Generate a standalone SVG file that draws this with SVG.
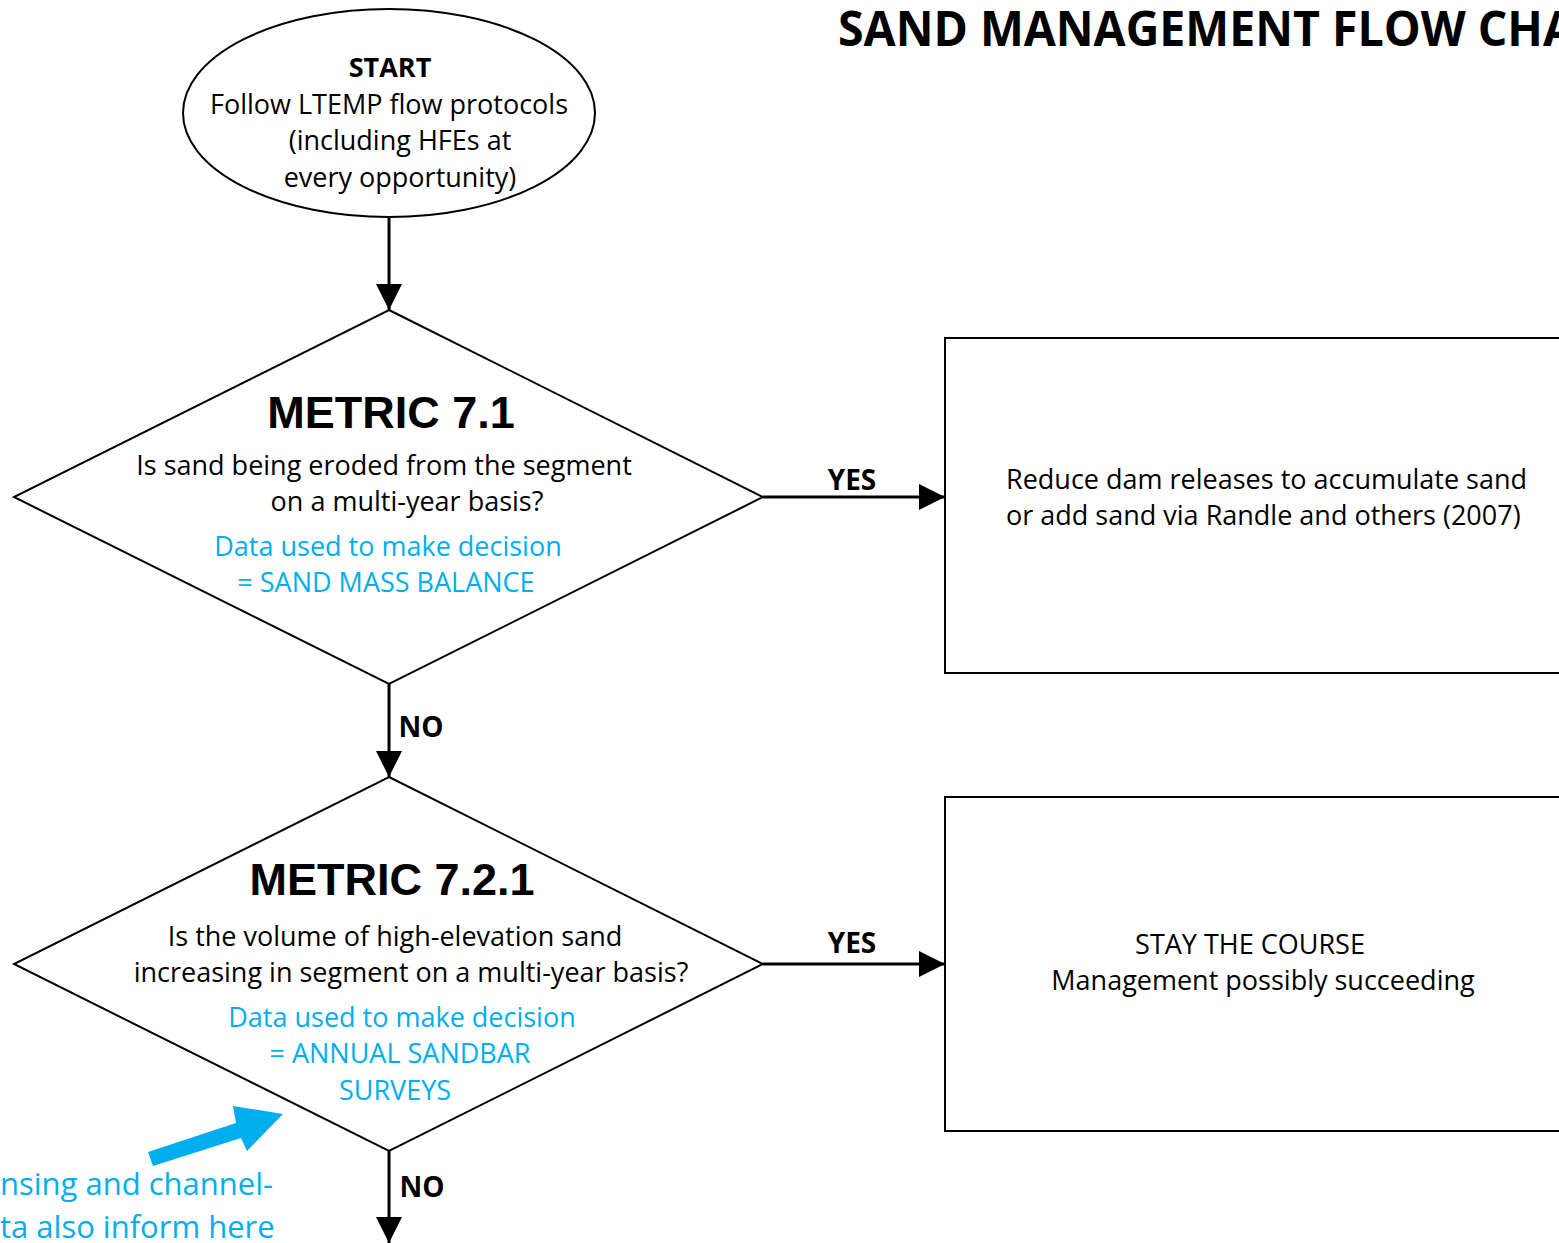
<svg xmlns="http://www.w3.org/2000/svg" width="1559" height="1243" viewBox="0 0 1559 1243">
<defs>
<marker id="ah" viewBox="0 0 26 26" refX="26" refY="13" markerWidth="26" markerHeight="26" markerUnits="userSpaceOnUse" orient="auto">
<path d="M0,0 L26,13 L0,26 Z" fill="#000"/>
</marker>
</defs>
<style>
.shape{fill:#fff;stroke:#000;stroke-width:2}
.t{font-family:"Open Sans","Liberation Sans",sans-serif;font-size:27px;fill:#000}
.b{font-weight:bold}
.blue{fill:#00AEEF}
.title{font-family:"Open Sans","Liberation Sans",sans-serif;font-weight:bold;font-size:48px;fill:#000}
.note{font-family:"Open Sans","Liberation Sans",sans-serif;font-size:31px;fill:#00AEEF}
.m{font-family:"Liberation Sans",Arial,sans-serif;font-weight:bold;font-size:45px;fill:#000}
.lbl{font-family:"Open Sans","Liberation Sans",sans-serif;font-weight:bold;font-size:28px;fill:#000}
.conn{stroke:#000;stroke-width:3;fill:none;marker-end:url(#ah)}
</style>
<rect width="1559" height="1243" fill="#fff"/>
<text class="title" x="838" y="46" textLength="737" lengthAdjust="spacingAndGlyphs">SAND MANAGEMENT FLOW CHA</text>
<g id="connectors">
<line class="conn" x1="389" y1="217" x2="389" y2="310"/>
<line class="conn" x1="763" y1="497" x2="945" y2="497"/>
<line class="conn" x1="389" y1="684" x2="389" y2="777"/>
<line class="conn" x1="763" y1="964" x2="945" y2="964"/>
<line class="conn" x1="389" y1="1151" x2="389" y2="1243"/>
<text class="lbl" x="852" y="490" text-anchor="middle">YES</text>
<text class="lbl" x="421" y="737" text-anchor="middle">NO</text>
<text class="lbl" x="852" y="953" text-anchor="middle">YES</text>
<text class="lbl" x="422" y="1197" text-anchor="middle">NO</text>
</g>
<g id="start">
<ellipse class="shape" cx="389" cy="113" rx="206" ry="104"/>
<text class="t b" x="390" y="77" text-anchor="middle">START</text>
<text class="t" x="389" y="114" text-anchor="middle">Follow LTEMP flow protocols</text>
<text class="t" x="400" y="150" text-anchor="middle">(including HFEs at</text>
<text class="t" x="400" y="187" text-anchor="middle">every opportunity)</text>
</g>
<g id="metric71">
<polygon class="shape" points="389,310 763,497 389,684 14,497"/>
<text class="m" x="391" y="428" text-anchor="middle">METRIC 7.1</text>
<text class="t" x="384" y="475" text-anchor="middle">Is sand being eroded from the segment</text>
<text class="t" x="407" y="511" text-anchor="middle">on a multi-year basis?</text>
<text class="t blue" x="388" y="556" text-anchor="middle">Data used to make decision</text>
<text class="t blue" x="386" y="592" text-anchor="middle">= SAND MASS BALANCE</text>
</g>
<g id="reduce">
<rect class="shape" x="945" y="338" width="630" height="335"/>
<text class="t" x="1006" y="489">Reduce dam releases to accumulate sand</text>
<text class="t" x="1006" y="525">or add sand via Randle and others (2007)</text>
</g>
<g id="metric721">
<polygon class="shape" points="389,777 763,964 389,1151 14,964"/>
<text class="m" x="392" y="895" text-anchor="middle">METRIC 7.2.1</text>
<text class="t" x="395" y="946" text-anchor="middle">Is the volume of high-elevation sand</text>
<text class="t" x="411" y="982" text-anchor="middle">increasing in segment on a multi-year basis?</text>
<text class="t blue" x="402" y="1027" text-anchor="middle">Data used to make decision</text>
<text class="t blue" x="400" y="1063" text-anchor="middle">= ANNUAL SANDBAR</text>
<text class="t blue" x="395" y="1100" text-anchor="middle">SURVEYS</text>
</g>
<g id="stay">
<rect class="shape" x="945" y="797" width="630" height="334"/>
<text class="t" x="1250" y="954" text-anchor="middle">STAY THE COURSE</text>
<text class="t" x="1263" y="990" text-anchor="middle">Management possibly succeeding</text>
</g>
<g id="note">
<polygon points="148,1152 236,1123 233,1106 283,1114 247,1151 241,1138 153,1166" fill="#00AEEF"/>
<text class="note" x="0" y="1195">nsing and channel-</text>
<text class="note" x="0" y="1238">ta also inform here</text>
</g>
</svg>
